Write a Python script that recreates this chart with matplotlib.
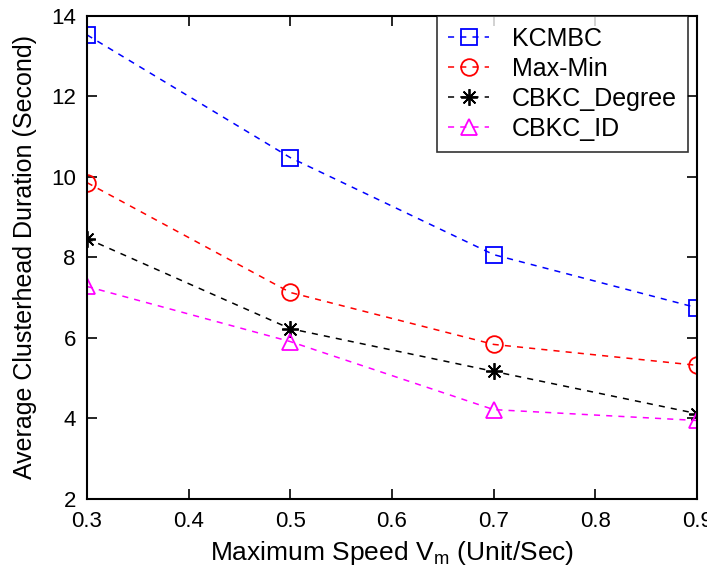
import matplotlib.pyplot as plt

plt.rcParams['font.family'] = ['Liberation Sans', 'DejaVu Sans']

speed = [0.3, 0.5, 0.7, 0.9]
kcmbc = [13.53, 10.48, 8.07, 6.75]
max_min = [9.86, 7.13, 5.84, 5.32]
cbkc_degree = [8.47, 6.23, 5.17, 4.12]
cbkc_id = [7.28, 5.91, 4.22, 3.95]

fig = plt.figure(figsize=(7.07, 5.70), dpi=100)
ax = fig.add_axes([0.123, 0.1246, 0.863, 0.8474])

ms = 12
style = dict(ls=(0, (4, 4)), ms=ms, mew=1.3, lw=1.1)
ax.plot(speed, kcmbc, color='#0000ff', marker='s', mfc='none', label='KCMBC', **style)
ax.plot(speed, max_min, color='#ff0000', marker='o', mfc='none', label='Max-Min', **style)
ax.plot(speed, cbkc_degree, color='black', marker=(8, 2, 0), label='CBKC_Degree', **style)
ax.plot(speed, cbkc_id, color='#ff00ff', marker='^', mfc='none', label='CBKC_ID', **style)

ax.set_xlim(0.3, 0.9)
ax.set_ylim(2, 14)
ax.set_xticks([0.3, 0.4, 0.5, 0.6, 0.7, 0.8, 0.9])
ax.set_yticks([2, 4, 6, 8, 10, 12, 14])
ax.tick_params(direction='in', top=True, right=True, labelsize=16, length=7, width=1.2)
ax.tick_params(axis='x', pad=9)
ax.tick_params(axis='y', pad=8)
for s in ax.spines.values():
    s.set_linewidth(1.5)

ax.set_xlabel('Maximum Speed V$_\\mathregular{m}$ (Unit/Sec)', fontsize=19, labelpad=5)
ax.set_ylabel('Average Clusterhead Duration (Second)', fontsize=18, labelpad=10)

leg = ax.legend(loc='upper right', bbox_to_anchor=(0.985, 1.0), borderaxespad=0.0,
                fontsize=18, frameon=True, fancybox=False, edgecolor='black',
                handlelength=1.64, handletextpad=0.9, labelspacing=0.24,
                borderpad=0.45)
leg.get_frame().set_linewidth(1.2)

fig.savefig('out.png', dpi=100)
